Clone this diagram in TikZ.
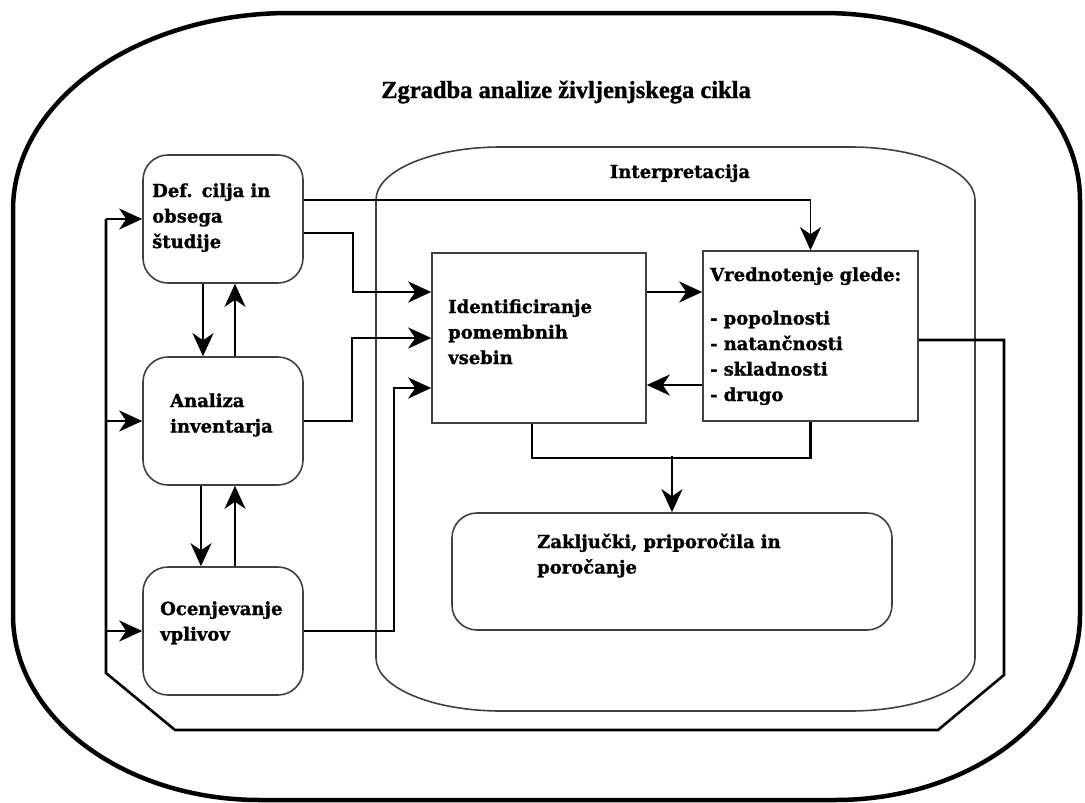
\documentclass[tikz,border=0pt]{standalone}
\usepackage{fontspec}
\setmainfont{DejaVu Serif}[BoldFeatures={FakeBold=1.2}]
\newfontfamily\headfont{Liberation Serif}[BoldFeatures={FakeBold=1.2}]
\usetikzlibrary{arrows.meta,calc}

\begin{document}
\begin{tikzpicture}[x=1pt,y=-1pt,
  tip/.style={-{Stealth[length=23pt,width=21pt,inset=7pt]}},
  boxline/.style={draw=black!75,line width=1.6pt},
  stagebox/.style={boxline,rounded corners=25pt,minimum width=160pt,minimum height=128pt,inner sep=0pt},
  plainbox/.style={boxline,minimum width=214pt,minimum height=170pt,inner sep=0pt},
  txt/.style={font=\bfseries\fontsize{18}{25.5}\selectfont,align=left,inner sep=0pt,anchor=base west},
  thickline/.style={line width=2.6pt},
  thinline/.style={line width=1.8pt},
]
\useasboundingbox (0,0) rectangle (1085,803);

% outer frame
\draw[line width=4.5pt]
  (13,210) arc[start angle=180,end angle=270,x radius=277,y radius=197]
  -- (823,13) arc[start angle=270,end angle=360,x radius=257,y radius=187]
  -- (1080,615) arc[start angle=0,end angle=90,x radius=245,y radius=185]
  -- (260,800) arc[start angle=90,end angle=180,x radius=247,y radius=185]
  -- cycle;
\node[font=\headfont\bfseries\fontsize{24.5}{28}\selectfont,anchor=base,inner sep=0pt]
  (title) at (566,98) {Zgradba analize življenjskega cikla};

% interpretation area
\draw[boxline]
  (376,200) arc[start angle=180,end angle=270,x radius=125,y radius=53]
  -- (850,147) arc[start angle=270,end angle=360,x radius=125,y radius=53]
  -- (975,658) arc[start angle=0,end angle=90,x radius=125,y radius=53]
  -- (501,711) arc[start angle=90,end angle=180,x radius=125,y radius=53]
  -- cycle;
\node[font=\bfseries\fontsize{18}{25.5}\selectfont,anchor=base,inner sep=0pt]
  (interp) at (680,178) {Interpretacija};

% phase boxes
\node[stagebox] (def) at (223,219) {};
\node[stagebox] (ana) at (223,421) {};
\node[stagebox] (oce) at (223,631) {};
\node[plainbox] (ident) at (539,338) {};
\node[plainbox,minimum width=215pt] (vred) at (810.5,336) {};
\node[boxline,rounded corners=25pt,minimum width=440pt,minimum height=117pt,inner sep=0pt]
  (zak) at (672,571.5) {};

% box texts
\node[txt,text width=150pt] (deftxt) at (152,197) {Def. cilja in\\obsega\\študije};
\node[txt,text width=130pt] (anatxt) at (170,407) {Analiza\\inventarja};
\node[txt,text width=140pt] (ocetxt) at (160,615) {Ocenjevanje\\vplivov};
\node[txt,text width=190pt] (identtxt) at (448,313) {Identificiranje\\pomembnih\\vsebin};
\node[txt,text width=205pt] (vredtxt) at (710,281)
  {Vrednotenje glede:\\[18pt]- popolnosti\\- natančnosti\\- skladnosti\\- drugo};
\node[txt,text width=400pt] (zaktxt) at (537,548) {Zaključki, priporočila in\\poročanje};

% feedback loop from the evaluation back to the phases
\coordinate (loopNE) at (1004,340);
\coordinate (loopSE) at (1004,675);
\coordinate (loopBR) at (938,730);
\coordinate (loopBL) at (175,730);
\coordinate (loopSW) at (106,673);
\draw[thickline] ([yshift=-4pt]vred.east) -- (loopNE) -- (loopSE) -- (loopBR)
  -- (loopBL) -- (loopSW) -- (loopSW |- def.west);
\draw[thickline,tip] (loopSW |- def.west) -- (def.west);
\draw[thickline,tip] (loopSW |- ana.west) -- (ana.west);
\draw[thickline,tip] (loopSW |- oce.west) -- (oce.west);

% iterations between the phases
\draw[thinline,tip] ([xshift=-20pt]def.south) -- ([xshift=-20pt]ana.north);
\draw[thinline,tip] ([xshift=12pt]ana.north) -- ([xshift=12pt]def.south);
\draw[thinline,tip] ([xshift=-22pt]ana.south) -- ([xshift=-22pt]oce.north);
\draw[thinline,tip] ([xshift=12pt]oce.north) -- ([xshift=12pt]ana.south);

% phases to interpretation
\draw[thickline,tip] ([yshift=-14pt]def.east) -- ++(49,0) |- ([yshift=46pt]ident.west);
\draw[thickline,tip] (ana.east) -- ++(48,0) |- (ident.west);
\draw[thickline,tip] (oce.east) -- ++(90,0) |- ([yshift=-50pt]ident.west);
\draw[thinline,tip] ([yshift=19pt]def.east) -| (vred.north);

% inside the interpretation
\coordinate (iv) at ([yshift=46pt]ident.east);
\coordinate (vi) at ([yshift=-49pt]vred.west);
\draw[thinline,tip] (iv) -- (iv -| vred.west);
\draw[thinline,tip] (vi) -- (vi -| ident.east);
\draw[thickline] ([xshift=-7pt]ident.south) -- ++(0,34) -| (vred.south);
\draw[thickline,tip] ([yshift=56pt]zak.north) -- (zak.north);
\end{tikzpicture}
\end{document}
